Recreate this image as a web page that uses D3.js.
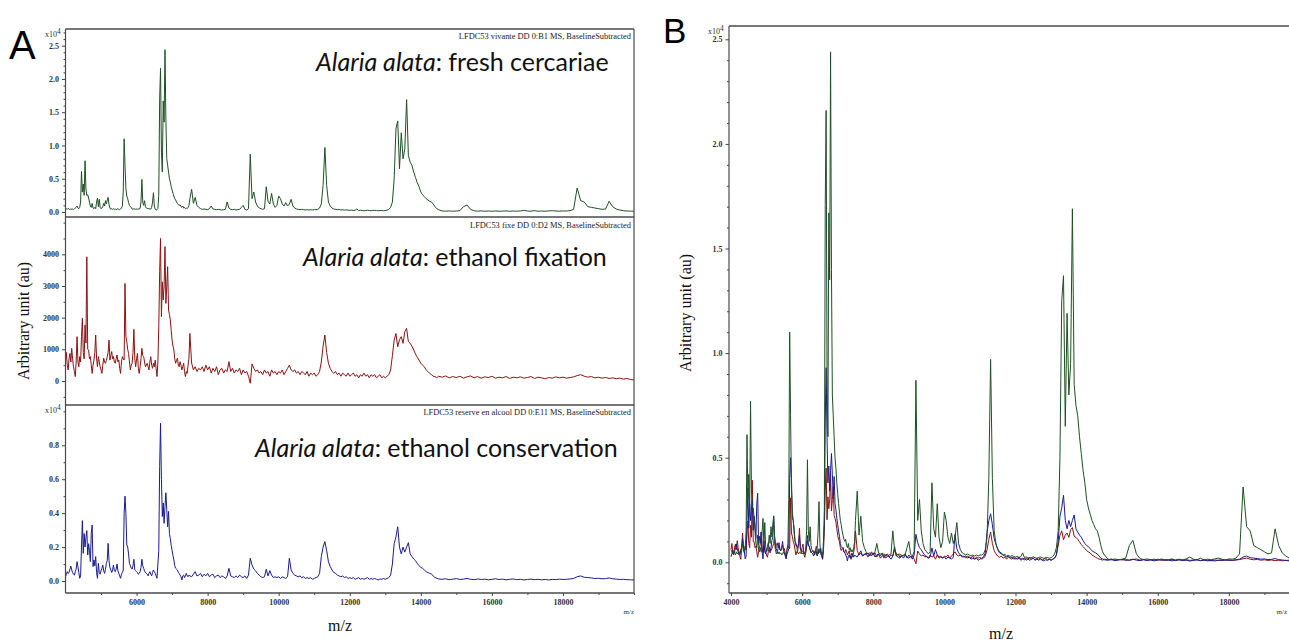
<!DOCTYPE html>
<html>
<head>
<meta charset="utf-8">
<script src="https://cdn.jsdelivr.net/npm/d3@7"></script>
<style>
body { margin: 0; background: #fff; }
svg { display: block; }
</style>
</head>
<body>
<svg id="chart" width="1289" height="642"></svg>
<script>
// m/z sampling points (Da)
var mzValues = [
  4000, 4025, 4050, 4075, 4100, 4125, 4150, 4175, 4200, 4225,
  4250, 4275, 4300, 4325, 4350, 4375, 4400, 4425, 4450, 4475,
  4500, 4525, 4550, 4575, 4600, 4625, 4650, 4675, 4700, 4725,
  4750, 4775, 4800, 4825, 4850, 4875, 4900, 4925, 4950, 4975,
  5000, 5025, 5050, 5075, 5100, 5125, 5150, 5175, 5200, 5225,
  5250, 5275, 5300, 5325, 5350, 5375, 5400, 5425, 5450, 5475,
  5500, 5525, 5550, 5575, 5600, 5625, 5650, 5675, 5700, 5725,
  5750, 5775, 5800, 5825, 5850, 5875, 5900, 5925, 5950, 5975,
  6000, 6025, 6050, 6075, 6100, 6125, 6150, 6175, 6200, 6225,
  6250, 6275, 6300, 6325, 6350, 6375, 6400, 6425, 6450, 6475,
  6500, 6525, 6550, 6575, 6600, 6625, 6650, 6675, 6700, 6725,
  6750, 6775, 6800, 6825, 6850, 6875, 6900, 6925, 6950, 6975,
  7000, 7025, 7050, 7075, 7100, 7125, 7150, 7175, 7200, 7225, 7250, 7275, 7300, 7325, 7350, 7375, 7400, 7425, 7450, 7475, 7500,
  7550, 7600, 7650, 7700, 7750, 7800, 7850, 7900, 7950, 8000, 8050, 8100, 8150, 8200, 8250, 8300, 8350, 8400, 8450, 8500,
  8550, 8600, 8650, 8700, 8750, 8800, 8850, 8900, 8950, 9000, 9050, 9100, 9150, 9200, 9250, 9300, 9350, 9400, 9450, 9500,
  9550, 9600, 9650, 9700, 9750, 9800, 9850, 9900, 9950, 10000, 10050, 10100, 10150, 10200, 10250, 10300, 10350, 10400, 10450, 10500,
  10550, 10600, 10650, 10700, 10750, 10800, 10850, 10900, 10950, 11000, 11050, 11100, 11150, 11200, 11250, 11300, 11350, 11400, 11450, 11500,
  11550, 11600, 11650, 11700, 11750, 11800, 11850, 11900, 11950, 12000, 12050, 12100, 12150, 12200, 12250, 12300, 12350, 12400, 12450, 12500,
  12550, 12600, 12650, 12700, 12750, 12800, 12850, 12900, 12950, 13000, 13050, 13100, 13150, 13200, 13250, 13300, 13350, 13400, 13450, 13500,
  13550, 13600, 13650, 13700, 13750, 13800, 13850, 13900, 13950, 14000, 14050, 14100, 14150, 14200, 14250, 14300, 14350, 14400, 14450, 14500,
  14600, 14700, 14800, 14900, 15000, 15100, 15200, 15300, 15400, 15500,
  15600, 15700, 15800, 15900, 16000, 16100, 16200, 16300, 16400, 16500,
  16600, 16700, 16800, 16900, 17000, 17100, 17200, 17300, 17400, 17500,
  17600, 17700, 17800, 17900, 18000, 18100, 18200, 18300, 18400, 18500,
  18600, 18700, 18800, 18900, 19000, 19100, 19200, 19300, 19400, 19500,
  19600, 19700, 19800, 19900, 20000
];

// fresh cercariae intensities (au)
var freshCercariae = [
  600, 500, 400, 550, 450, 350, 500, 400, 450, 350,
  500, 600, 700, 900, 600, 500, 700, 1500, 6100, 3000,
  4200, 2500, 7700, 3500, 2500, 2600, 2100, 1500, 900, 700,
  1300, 600, 500, 700, 500, 1500, 2100, 800, 1900, 700,
  500, 600, 800, 1300, 900, 1700, 1200, 1800, 2200, 1100,
  600, 400, 500, 400, 500, 400, 450, 350, 400, 500,
  400, 350, 450, 600, 900, 3000, 11000, 7000, 3500, 2400,
  2000, 1400, 1000, 800, 700, 450, 400, 500, 450, 400,
  450, 400, 500, 400, 600, 1500, 4900, 1500, 1000, 1700,
  800, 600, 500, 550, 450, 500, 400, 700, 1500, 2900,
  900, 400, 300, 350, 500, 2500, 17100, 21600, 9000, 6000,
  16700, 13500, 24400, 14000, 8000, 7000, 6000, 5000, 4500, 3800,
  3300, 2800, 2400, 2000, 1800, 1500, 1300, 1100, 1000, 1100, 800, 700, 900, 600, 700, 500, 600, 500, 700, 1000, 2000,
  3400, 1300, 2200, 1000, 700, 500, 400, 450, 400, 350, 500, 900, 450, 400, 350, 400, 350, 300, 350, 400,
  1500, 600, 400, 350, 400, 300, 350, 400, 700, 1000, 400, 300, 500, 8700, 2000, 3000, 1500, 900, 600, 500,
  400, 500, 3800, 1600, 1200, 2800, 1200, 700, 1000, 2400, 2000, 1200, 900, 1400, 900, 1200, 1900, 900, 600, 450,
  400, 350, 400, 350, 300, 350, 300, 350, 300, 350, 350, 400, 600, 1200, 4000, 9700, 4000, 1500, 900, 600,
  450, 400, 350, 380, 300, 330, 280, 320, 280, 250, 280, 230, 270, 450, 230, 260, 220, 190, 230, 260,
  220, 190, 230, 260, 220, 190, 220, 230, 190, 220, 280, 400, 700, 1500, 5000, 12500, 13700, 6500, 11900, 8000,
  9500, 16900, 8500, 7500, 7000, 6000, 5200, 4400, 3800, 3000, 2600, 2300, 2000, 1800, 1600, 1500, 1200, 800, 500, 350,
  150, 120, 160, 120, 150, 200, 800, 1050, 400, 180,
  130, 160, 120, 150, 110, 160, 120, 130, 160, 110,
  150, 120, 160, 250, 150, 120, 200, 110, 150, 120,
  160, 200, 150, 120, 160, 150, 200, 400, 3600, 1700,
  1500, 800, 700, 600, 500, 400, 450, 1600, 800, 450,
  300, 200, 150, 130, 120
];

// ethanol fixation intensities (au)
var ethanolFixation = [
  610, 900, 500, 350, 700, 870, 600, 1030, 700, 450,
  300, 140, 600, 1400, 600, 450, 770, 600, 1400, 1980,
  900, 700, 1770, 1200, 3920, 1000, 980, 700, 770, 500,
  240, 500, 660, 900, 1450, 700, 450, 770, 600, 450,
  350, 240, 500, 720, 600, 560, 650, 770, 900, 1290,
  660, 800, 930, 700, 770, 600, 560, 700, 820, 600,
  660, 400, 240, 600, 770, 700, 660, 3080, 1400, 1240,
  1000, 870, 600, 350, 500, 560, 900, 1630, 700, 450,
  700, 870, 400, 240, 450, 700, 1030, 800, 770, 600,
  450, 500, 560, 450, 350, 600, 770, 500, 400, 560,
  450, 660, 400, 140, 600, 1710, 3450, 4500, 2030, 3130,
  2560, 3000, 4240, 2450, 3000, 3610, 2240, 2100, 1930, 1600,
  1290, 1100, 980, 700, 560, 650, 720, 500, 450, 610, 500, 350, 450, 560, 300, 140, 300, 240, 500, 720, 1500,
  560, 350, 450, 300, 400, 350, 450, 300, 500, 350, 450, 250, 400, 300, 450, 200, 350, 400, 250, 350,
  300, 610, 300, 400, 250, 350, 300, 400, 200, 350, 250, 300, 150, -70, 540, 400, 300, 350, 250, 300,
  200, 350, 250, 300, 150, 350, 250, 300, 200, 300, 250, 350, 200, 300, 400, 500, 350, 300, 350, 250,
  300, 200, 300, 250, 200, 300, 150, 250, 200, 250, 150, 200, 300, 600, 1100, 1450, 900, 560, 400, 300,
  240, 300, 200, 250, 150, 250, 200, 150, 250, 150, 200, 250, 150, 200, 100, 200, 150, 250, 150, 200,
  100, 200, 150, 200, 100, 150, 200, 100, 150, 100, 150, 200, 350, 800, 1290, 1500, 1080, 1300, 1400, 1190,
  1560, 1660, 1240, 1190, 1100, 980, 850, 750, 660, 560, 500, 450, 350, 300, 240, 200, 150, 140, 100, 150,
  120, 160, 100, 140, 110, 150, 90, 130, 160, 100,
  140, 90, 130, 110, 150, 90, 120, 100, 140, 80,
  120, 100, 130, 90, 110, 140, 80, 120, 100, 70,
  110, 90, 130, 100, 120, 90, 110, 130, 170, 200,
  150, 120, 140, 100, 120, 90, 110, 80, 100, 70,
  90, 60, 80, 50, 30
];

// ethanol conservation intensities (au)
var ethanolConservation = [
  260, 400, 550, 450, 500, 700, 880, 650, 500, 400,
  350, 550, 700, 1140, 850, 500, 160, 300, 2000, 3560,
  1630, 2800, 2000, 2540, 2970, 1530, 2200, 1800, 1140, 2800,
  3300, 850, 1240, 900, 1440, 500, 160, 1040, 500, 400,
  600, 750, 940, 600, 450, 700, 1040, 1200, 2220, 1200,
  800, 650, 500, 650, 940, 600, 550, 700, 1000, 600,
  450, 300, 160, 400, 500, 650, 4000, 5000, 4000, 2120,
  2000, 1600, 1040, 900, 750, 700, 900, 1280, 650, 600,
  550, 500, 400, 450, 550, 800, 1280, 900, 750, 600,
  500, 450, 400, 300, 450, 550, 400, 300, 500, 650,
  550, 450, 300, 160, 1000, 1800, 6750, 9300, 6000, 3800,
  4600, 3400, 4400, 5200, 4200, 3200, 4100, 2800, 2500, 2100,
  1800, 1500, 1240, 900, 750, 700, 650, 500, 450, 350, 250, 60, 300, 350, 200, 300, 450, 300, 250, 350, 300,
  250, 400, 550, 300, 350, 450, 250, 400, 300, 450, 250, 350, 400, 200, 300, 350, 200, 300, 250, 150,
  300, 750, 300, 250, 200, 300, 200, 350, 250, 200, 300, 150, 350, 1340, 940, 700, 600, 450, 350, 250,
  200, 250, 690, 300, 610, 350, 200, 250, 200, 250, 150, 250, 200, 150, 250, 1340, 650, 450, 350, 300,
  250, 300, 200, 250, 150, 200, 150, 200, 100, 150, 200, 250, 450, 1440, 2000, 2320, 1800, 1140, 850, 650,
  500, 450, 350, 300, 250, 300, 200, 250, 150, 200, 150, 200, 100, 150, 200, 100, 150, 100, 150, 200,
  100, 150, 100, 150, 100, 60, 120, 100, 150, 100, 150, 200, 350, 1000, 2200, 2600, 3200, 2000, 1600, 2000,
  1700, 2000, 2260, 1600, 1440, 1300, 1200, 1040, 900, 800, 750, 650, 550, 500, 450, 400, 300, 200, 160, 120,
  100, 130, 80, 110, 140, 90, 110, 150, 100, 80,
  120, 90, 110, 70, 100, 130, 90, 110, 70, 100,
  120, 80, 100, 60, 90, 110, 80, 100, 70, 90,
  60, 100, 80, 110, 90, 100, 120, 150, 250, 300,
  220, 200, 180, 150, 160, 130, 140, 180, 130, 110,
  90, 100, 80, 70, 60
];

// tick values
var freshTicks = [0, 5000, 10000, 15000, 20000, 25000];
var fixationTicks = [0, 1000, 2000, 3000, 4000];
var conservationTicks = [0, 2000, 4000, 6000, 8000];
var overlayTicks = [0, 5000, 10000, 15000, 20000, 25000];
var mzTicksA = [6000, 8000, 10000, 12000, 14000, 16000, 18000];
var mzTicksB = [4000, 6000, 8000, 10000, 12000, 14000, 16000, 18000];

var green = '#1f4f24', red = '#8a1313', blue = '#1b1b8f';
var axisColor = '#444', labelColor = '#333';

var svg = d3.select('#chart');
var defs = svg.append('defs');

var xA = d3.scaleLinear().domain([4000, 20000]).range([65.5, 634]);
var xB = d3.scaleLinear().domain([4000, 20000]).range([731, 1300]);

function addClip(id, x0, y0, x1, y1) {
    defs.append('clipPath').attr('id', id)
        .append('rect').attr('x', x0).attr('y', y0)
        .attr('width', x1 - x0).attr('height', y1 - y0);
}

function drawSpectrum(x, y, values, color, clipId) {
    var line = d3.line()
        .x((d, i) => x(mzValues[i]))
        .y(d => y(d));
    svg.append('path')
        .datum(values)
        .attr('d', line)
        .attr('fill', 'none')
        .attr('stroke', color)
        .attr('stroke-width', 1)
        .attr('stroke-linejoin', 'round')
        .attr('clip-path', `url(#${clipId})`);
}

// common look for the small tick labels
function styleAxis(g) {
    g.select('.domain').remove();
    g.selectAll('.tick line').attr('stroke', axisColor);
    g.selectAll('.tick text')
        .attr('fill', labelColor)
        .attr('font-family', 'Liberation Serif, serif')
        .attr('font-size', 8)
        .attr('font-weight', 'bold');
}

// left axis with labelled major ticks and short minor ticks
function drawYAxis(xPos, y, top, bottom, major, minorStep, fmt) {
    var lo = y.invert(bottom), hi = y.invert(top);
    var minor = d3.range(Math.ceil(lo / minorStep) * minorStep, hi, minorStep)
        .filter(v => major.indexOf(v) < 0);
    svg.append('g')
        .attr('transform', `translate(${xPos},0)`)
        .call(d3.axisLeft(y).tickValues(minor).tickSize(2).tickSizeOuter(0).tickFormat(''))
        .call(styleAxis);
    svg.append('g')
        .attr('transform', `translate(${xPos},0)`)
        .call(d3.axisLeft(y).tickValues(major.filter(v => v >= lo && v <= hi))
            .tickSize(3.5).tickPadding(3).tickSizeOuter(0).tickFormat(fmt))
        .call(styleAxis);
}

function drawXAxis(x, yPos, major, minor) {
    svg.append('g')
        .attr('transform', `translate(0,${yPos})`)
        .call(d3.axisBottom(x).tickValues(minor).tickSize(2).tickSizeOuter(0).tickFormat(''))
        .call(styleAxis);
    svg.append('g')
        .attr('transform', `translate(0,${yPos})`)
        .call(d3.axisBottom(x).tickValues(major).tickSize(3).tickPadding(3).tickSizeOuter(0).tickFormat(d3.format('d')))
        .call(styleAxis);
}

function hline(x0, x1, y, w) {
    svg.append('line').attr('x1', x0).attr('x2', x1).attr('y1', y).attr('y2', y)
        .attr('stroke', '#4a4a4a').attr('stroke-width', w);
}
function vline(x, y0, y1, w) {
    svg.append('line').attr('x1', x).attr('x2', x).attr('y1', y0).attr('y2', y1)
        .attr('stroke', '#4a4a4a').attr('stroke-width', w);
}

function exponentLabel(x, y) {
    var t = svg.append('text').attr('x', x).attr('y', y)
        .attr('font-family', 'Liberation Serif').attr('font-size', 8).attr('fill', labelColor)
        .text('x10');
    t.append('tspan').attr('dy', -3.5).attr('font-size', 7.5).text('4');
}

// ---------- Panel A ----------
var axA = 65.5, rightA = 634;
var panelsA = [
    { values: freshCercariae, color: green, top: 29, bottom: 217,
      y: d3.scaleLinear().domain([0, 25000]).range([212, 45.7]),
      ticks: freshTicks, minorStep: 1000, fmt: d => (d / 1e4).toFixed(1), exponent: true,
      label: ': fresh cercariae', labelX: 316, labelY: 71,
      header: 'LFDC53 vivante DD 0:B1 MS, BaselineSubtracted', headerY: 39 },
    { values: ethanolFixation, color: red, top: 217, bottom: 405,
      y: d3.scaleLinear().domain([0, 4000]).range([381, 254.3]),
      ticks: fixationTicks, minorStep: 500, fmt: d3.format('d'), exponent: false,
      label: ': ethanol fixation', labelX: 303, labelY: 266,
      header: 'LFDC53 fixe DD 0:D2 MS, BaselineSubtracted', headerY: 228 },
    { values: ethanolConservation, color: blue, top: 405, bottom: 593,
      y: d3.scaleLinear().domain([0, 8000]).range([581, 445.3]),
      ticks: conservationTicks, minorStep: 1000, fmt: d => (d / 1e4).toFixed(1), exponent: true,
      label: ': ethanol conservation', labelX: 255, labelY: 457,
      header: 'LFDC53 reserve en alcool DD 0:E11 MS, BaselineSubtracted', headerY: 415 }
];

panelsA.forEach((p, i) => {
    var clipId = 'clipA' + i;
    addClip(clipId, axA, p.top, rightA, p.bottom);
    drawSpectrum(xA, p.y, p.values, p.color, clipId);
    drawYAxis(axA, p.y, p.top, p.bottom, p.ticks, p.minorStep, p.fmt);
    hline(axA, rightA, p.top, 1.6);
    if (p.exponent) exponentLabel(45, p.top + 8);

    svg.append('text')
        .attr('x', rightA - 3).attr('y', p.headerY)
        .attr('text-anchor', 'end')
        .attr('font-family', 'Liberation Serif').attr('font-size', 8.4).attr('fill', '#222')
        .text(p.header);

    var t = svg.append('text')
        .attr('x', p.labelX).attr('y', p.labelY)
        .attr('font-family', 'Lato, "Open Sans", sans-serif').attr('font-size', 25).attr('fill', '#111');
    t.append('tspan').attr('font-style', 'italic').text('Alaria alata');
    t.append('tspan').text(p.label);
});

vline(axA, 29, 593, 1.2);
vline(rightA, 29, 593, 1.2);
hline(axA, rightA, 593, 1.6);
drawXAxis(xA, 593, mzTicksA, [5000, 7000, 9000, 11000, 13000, 15000, 17000, 19000, 20000]);

svg.append('text').attr('x', rightA).attr('y', 614).attr('text-anchor', 'end')
    .attr('font-family', 'Liberation Serif').attr('font-size', 7).attr('fill', labelColor).text('m/z');

svg.append('text').attr('x', 340).attr('y', 631).attr('text-anchor', 'middle')
    .attr('font-family', 'Liberation Serif').attr('font-size', 16).attr('fill', '#111').text('m/z');

svg.append('text')
    .attr('transform', 'translate(29,321) rotate(-90)')
    .attr('text-anchor', 'middle')
    .attr('font-family', 'Liberation Serif').attr('font-size', 16).attr('fill', '#111')
    .text('Arbitrary unit (au)');

svg.append('text').attr('x', 9).attr('y', 59)
    .attr('font-family', 'Liberation Sans, Arial, sans-serif').attr('font-size', 40).attr('fill', '#000').text('A');

// ---------- Panel B ----------
var axB = 729, topB = 26, bottomB = 593, rightB = 1289;
var yB = d3.scaleLinear().domain([0, 25000]).range([562.3, 39.3]);
addClip('clipB', axB, topB, rightB, bottomB);
drawSpectrum(xB, yB, ethanolFixation, red, 'clipB');
drawSpectrum(xB, yB, ethanolConservation, blue, 'clipB');
drawSpectrum(xB, yB, freshCercariae, green, 'clipB');

drawYAxis(axB, yB, topB, bottomB, overlayTicks, 1000, d => (d / 1e4).toFixed(1));
hline(axB, rightB, topB, 1.6);
vline(axB, topB, bottomB, 1.2);
hline(axB, rightB, bottomB, 1.6);
drawXAxis(xB, bottomB, mzTicksB, [5000, 7000, 9000, 11000, 13000, 15000, 17000, 19000]);
exponentLabel(708, 34);

svg.append('text').attr('x', 1287).attr('y', 614).attr('text-anchor', 'end')
    .attr('font-family', 'Liberation Serif').attr('font-size', 7).attr('fill', labelColor).text('m/z');

svg.append('text').attr('x', 1001).attr('y', 639).attr('text-anchor', 'middle')
    .attr('font-family', 'Liberation Serif').attr('font-size', 16).attr('fill', '#111').text('m/z');

svg.append('text')
    .attr('transform', 'translate(691,313) rotate(-90)')
    .attr('text-anchor', 'middle')
    .attr('font-family', 'Liberation Serif').attr('font-size', 16).attr('fill', '#111')
    .text('Arbitrary unit (au)');

svg.append('text').attr('x', 663).attr('y', 43)
    .attr('font-family', 'Liberation Sans, Arial, sans-serif').attr('font-size', 35).attr('fill', '#000').text('B');
</script>
</body>
</html>
